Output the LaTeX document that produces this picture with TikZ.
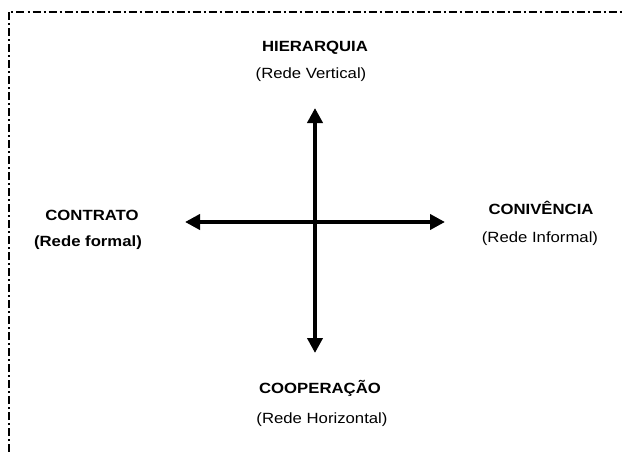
\documentclass[tikz,border=0pt]{standalone}
\usepackage{fontspec}
\setmainfont{Liberation Sans}
\usetikzlibrary{arrows.meta}
\begin{document}
\begin{tikzpicture}[x=1pt,y=-1pt,
  lbl/.style={anchor=base,inner sep=0pt,font=\fontsize{14.8}{16}\selectfont},
  bigarrow/.style={line width=4.5pt,{Triangle[length=15pt,width=15pt]}-{Triangle[length=15pt,width=15pt]}},
  frameline/.style={line width=2pt,dash pattern=on 8pt off 3pt on 2pt off 3pt}]
\useasboundingbox (0,0) rectangle (624,452);
% frame (top and left edges)
\coordinate (fTL) at (8.5,12);
\coordinate (fTR) at (624,12);
\coordinate (fBL) at (8.5,452);
\draw[frameline] (fBL) -- (fTL) -- (fTR);
% labels
\node[lbl] (hier) at (315,52) {\scalebox{1.13}[1]{\bfseries HIERARQUIA}};
\node[lbl] (hiersub) at (311,79) {\scalebox{1.13}[1]{(Rede Vertical)}};
\node[lbl] (coop) at (320,393) {\scalebox{1.13}[1]{\bfseries COOPERAÇÃO}};
\node[lbl] (coopsub) at (322,423) {\scalebox{1.13}[1]{(Rede Horizontal)}};
\node[lbl] (contr) at (92,220) {\scalebox{1.13}[1]{\bfseries CONTRATO}};
\node[lbl] (contrsub) at (88,246) {\scalebox{1.13}[1]{\bfseries (Rede formal)}};
\node[lbl] (conv) at (541,214) {\scalebox{1.13}[1]{\bfseries CONIVÊNCIA}};
\node[lbl] (convsub) at (540,242) {\scalebox{1.13}[1]{(Rede Informal)}};
% axes
\coordinate (aL) at (185,222);
\coordinate (aR) at (445,222);
\coordinate (aT) at (315,108);
\coordinate (aB) at (315,353);
\draw[bigarrow] (aL) -- (aR);
\draw[bigarrow] (aT) -- (aB);
\end{tikzpicture}
\end{document}
